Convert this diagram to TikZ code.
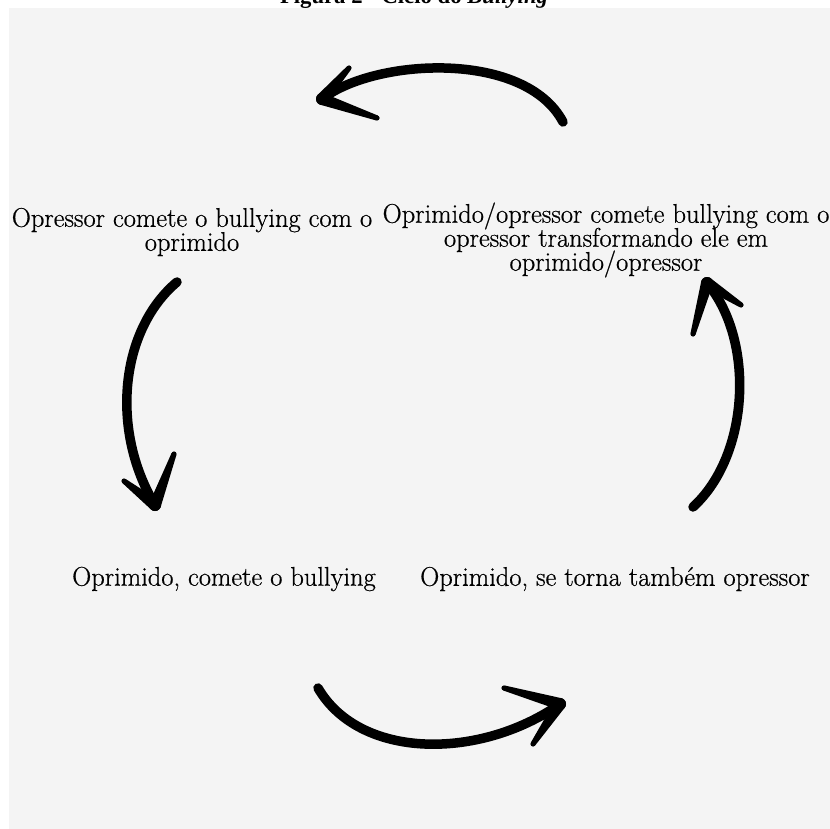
\documentclass[tikz,border=0pt]{standalone}
\usepackage{fontspec}
\setmainfont{Latin Modern Roman}[FakeStretch=0.98,FakeBold=0.6]
\newfontfamily\titlefont{Liberation Serif}
\usetikzlibrary{calc}
\definecolor{panel}{HTML}{F4F4F4}
\newcommand\lblfont{\fontsize{27}{24}\selectfont\lineskiplimit -100pt\relax\lineskip 0pt\relax}
\tikzset{
  lbl/.style={align=center, inner sep=0pt, text=black, font=\lblfont},
  brush/.style={line width=9.5pt, line cap=round, draw=black},
}
\newcommand\brushbarb[2]{%
  \fill[black] ($(#1)!6pt!90:(#2)$) -- ($(#2)!2.6pt!-90:(#1)$) -- ($(#2)!2.6pt!90:(#1)$) -- ($(#1)!6pt!-90:(#2)$) -- cycle;
  \fill[black] (#2) circle (2.6pt);
  \fill[black] (#1) circle (6pt);}
\begin{document}
\begin{tikzpicture}[x=1pt,y=-1pt]
\useasboundingbox (0,0) rectangle (830,829);
\clip (0,0) rectangle (830,829);
\fill[white] (0,0) rectangle (830,829);
\fill[panel] (9,8) rectangle (830,829);
\node[anchor=base, inner sep=0pt, font=\titlefont\bfseries\fontsize{22.7}{26}\selectfont] (title) at (414,4) {Figura 2 - Ciclo do \textit{Bullying}};

\node[lbl] (n1) at (192,232) {Opressor comete o bullying com o\\oprimido};
\node[lbl] (n2) at (606,240) {Oprimido/opressor comete bullying com o\\opressor transformando ele em\\oprimido/opressor};
\node[lbl] (n3) at (224,579) {Oprimido, comete o bullying};
\node[lbl] (n4) at (615,579) {Oprimido, se torna também opressor};

% top arrow (n2 -> n1)
\coordinate (t1) at (563,122); \coordinate (h1) at (322,99);
\coordinate (b1a) at (349,68); \coordinate (b1b) at (377,118);
\draw[brush] (t1) .. controls (525,50) and (375,58) .. (h1);
\brushbarb{h1}{b1a}\brushbarb{h1}{b1b}

% left arrow (n1 -> n3)
\coordinate (t2) at (177,282); \coordinate (h2) at (155,505);
\coordinate (b2a) at (124,481); \coordinate (b2b) at (174,454);
\draw[brush] (t2) .. controls (120,330) and (110,430) .. (h2);
\brushbarb{h2}{b2a}\brushbarb{h2}{b2b}

% bottom arrow (n3 -> n4)
\coordinate (t3) at (318,688); \coordinate (h3) at (560,704);
\coordinate (b3a) at (504,688); \coordinate (b3b) at (533,744);
\draw[brush] (t3) .. controls (360,760) and (480,760) .. (h3);
\brushbarb{h3}{b3a}\brushbarb{h3}{b3b}

% right arrow (n4 -> n2)
\coordinate (t4) at (693,507); \coordinate (h4) at (707,283);
\coordinate (b4a) at (693,334); \coordinate (b4b) at (741,305);
\draw[brush] (t4) .. controls (750,455) and (755,340) .. (h4);
\brushbarb{h4}{b4a}\brushbarb{h4}{b4b}
\end{tikzpicture}
\end{document}
